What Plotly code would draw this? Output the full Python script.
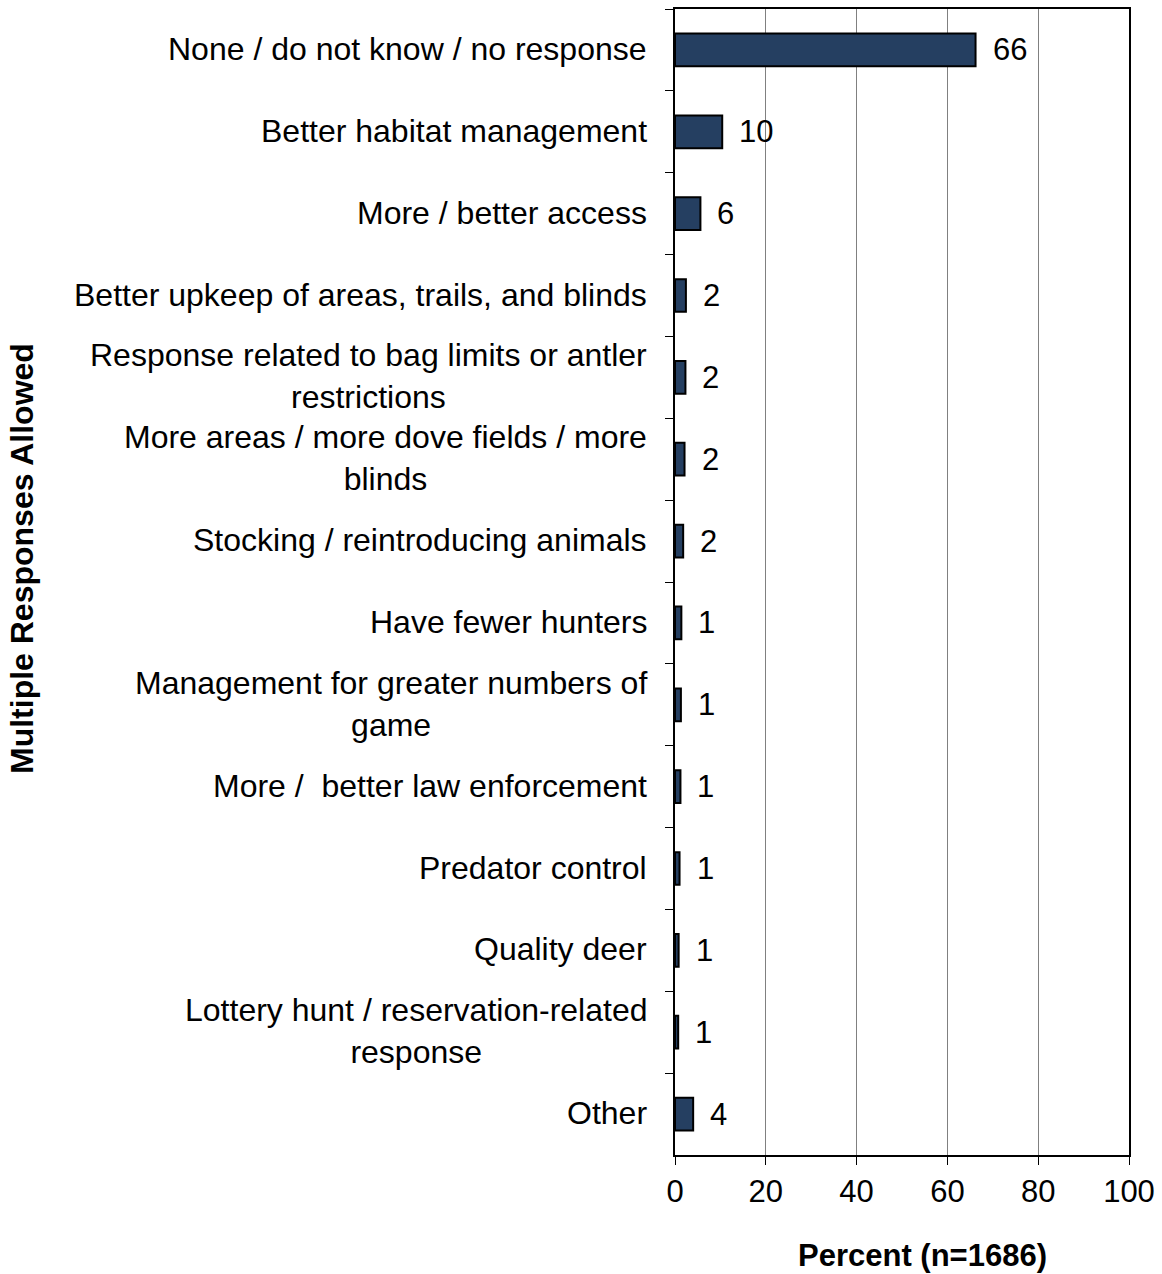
import plotly.graph_objects as go

# Survey responses (multiple responses allowed), percent of respondents
categories = [
    "None / do not know / no response",
    "Better habitat management",
    "More / better access",
    "Better upkeep of areas, trails, and blinds",
    "Response related to bag limits or antler<br>restrictions",
    "More areas / more dove fields / more<br>blinds",
    "Stocking / reintroducing animals",
    "Have fewer hunters",
    "Management for greater numbers of<br>game",
    "More /  better law enforcement",
    "Predator control",
    "Quality deer",
    "Lottery hunt / reservation-related<br>response",
    "Other",
]
percent = [66.2, 10.4, 5.6, 2.4, 2.3, 2.1, 1.8, 1.4, 1.3, 1.2, 1.0, 0.8, 0.7, 4.0]

x_ticks = [0, 20, 40, 60, 80, 100]
x_title = "Percent (n=1686)"
y_title = "Multiple Responses Allowed"

FONT = "Liberation Sans, Arial, sans-serif"
FS = 31
FS_CAT = 32
BAR_COLOR = "#253F61"

fig = go.Figure(
    go.Bar(
        x=percent,
        y=categories,
        orientation="h",
        width=0.4,
        marker=dict(color=BAR_COLOR, line=dict(color="black", width=2)),
        hoverinfo="x+y",
    )
)

annotations = []
# Value labels to the right of each bar
for cat, val in zip(categories, percent):
    annotations.append(dict(
        x=val, y=cat, xref="x", yref="y",
        text=f"{val:.0f}", showarrow=False,
        xanchor="left", yanchor="middle", xshift=15,
        font=dict(family=FONT, size=FS, color="black"),
    ))
# Category labels, right-aligned block with centred lines
for cat in categories:
    annotations.append(dict(
        x=0, y=cat, xref="paper", yref="y",
        text=cat, showarrow=False, align="center",
        xanchor="right", yanchor="middle", xshift=-26, yshift=1,
        font=dict(family=FONT, size=FS_CAT, color="black"),
    ))
# Axis titles
annotations.append(dict(
    x=0, y=0.5, xref="paper", yref="paper", text=f"<b>{y_title}</b>",
    showarrow=False, textangle=-90, xanchor="center", yanchor="middle",
    xshift=-653, yshift=23, font=dict(family=FONT, size=FS_CAT, color="black"),
))
annotations.append(dict(
    x=0.545, y=0, xref="paper", yref="paper", text=f"<b>{x_title}</b>",
    showarrow=False, xanchor="center", yanchor="middle",
    yshift=-100, font=dict(family=FONT, size=FS, color="black"),
))

fig.update_layout(
    width=1162, height=1274,
    margin=dict(l=675, r=32, t=7, b=119),
    paper_bgcolor="white", plot_bgcolor="white",
    showlegend=False,
    font=dict(family=FONT, size=FS, color="black"),
    annotations=annotations,
    xaxis=dict(
        range=[0, 100], tickvals=x_ticks, ticktext=[str(t) for t in x_ticks],
        showgrid=True, gridcolor="#808080", gridwidth=1,
        zeroline=False,
        showline=True, linecolor="black", linewidth=2, mirror=True,
        ticks="outside", ticklen=8, tickcolor="black", tickwidth=1,
        tickfont=dict(family=FONT, size=FS, color="black"),
        fixedrange=True,
    ),
    yaxis=dict(
        type="category", categoryorder="array", categoryarray=categories,
        autorange="reversed",
        showticklabels=False, showgrid=False, zeroline=False,
        showline=True, linecolor="black", linewidth=2, mirror=True,
        ticks="outside", tickson="boundaries", ticklen=8,
        tickcolor="black", tickwidth=1,
        fixedrange=True,
    ),
)

fig.write_html("out.html")
